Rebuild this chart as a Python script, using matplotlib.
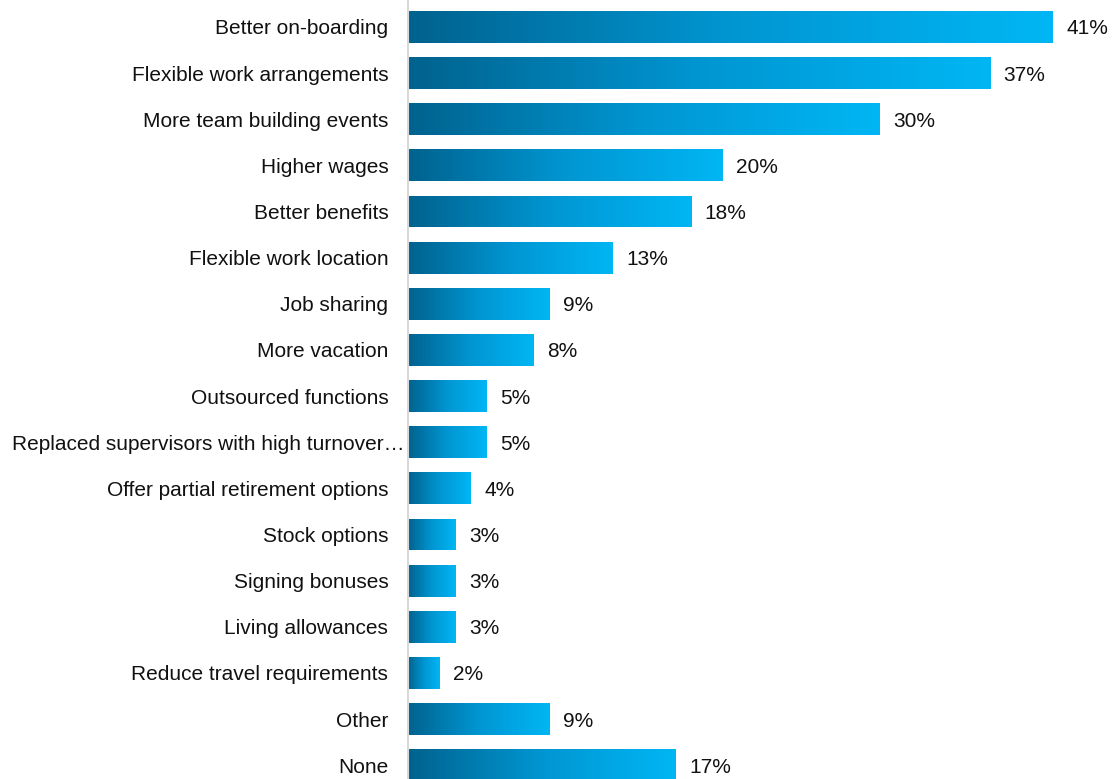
import matplotlib.pyplot as plt
import matplotlib.transforms as mtransforms
import numpy as np
from matplotlib.colors import LinearSegmentedColormap

categories = [
    "Better on-boarding",
    "Flexible work arrangements",
    "More team building events",
    "Higher wages",
    "Better benefits",
    "Flexible work location",
    "Job sharing",
    "More vacation",
    "Outsourced functions",
    "Replaced supervisors with high turnover\u2026",
    "Offer partial retirement options",
    "Stock options",
    "Signing bonuses",
    "Living allowances",
    "Reduce travel requirements",
    "Other",
    "None",
]
values = [41, 37, 30, 20, 18, 13, 9, 8, 5, 5, 4, 3, 3, 3, 2, 9, 17]

plt.rcParams["font.family"] = ["Liberation Sans", "DejaVu Sans"]

fig = plt.figure(figsize=(11.14, 7.79), dpi=100)
ax = fig.add_axes([0.366, 0.0, 0.634, 1.0])

cmap = LinearSegmentedColormap.from_list("blues", ["#00628e", "#0096d2", "#00b6f4"])
grad = np.linspace(0, 1, 256).reshape(1, -1)

y = np.arange(len(categories))
bars = ax.barh(y, values, height=0.69, color="none", edgecolor="none")

for bar, v in zip(bars, values):
    x0, y0 = bar.get_x(), bar.get_y()
    w, h = bar.get_width(), bar.get_height()
    im = ax.imshow(grad, cmap=cmap, aspect="auto",
                   extent=[x0, x0 + w, y0 + h, y0], zorder=2)
    im.set_clip_path(bar)
    ax.annotate(f"{v}%", xy=(x0 + w, y0 + h / 2), xytext=(10, 0),
                textcoords="offset points", ha="left", va="center_baseline",
                fontsize=15, color="#111111")

ax.set_xlim(0, 44.9)
ax.set_ylim(16.30, -0.585)
ax.set_yticks(y)
ax.set_yticklabels(categories, fontsize=15, color="#111111")
ax.tick_params(axis="y", length=0, pad=14)
ax.set_xticks([])

# long label is truncated in the original and runs up to the axis line
lbl = ax.get_yticklabels()[9]
lbl.set_transform(lbl.get_transform() + mtransforms.ScaledTranslation(0.16, 0, fig.dpi_scale_trans))

for s in ["top", "right", "bottom"]:
    ax.spines[s].set_visible(False)
ax.spines["left"].set_color("#d9d9d9")
ax.spines["left"].set_linewidth(1.5)

plt.savefig("out.png", dpi=100)
